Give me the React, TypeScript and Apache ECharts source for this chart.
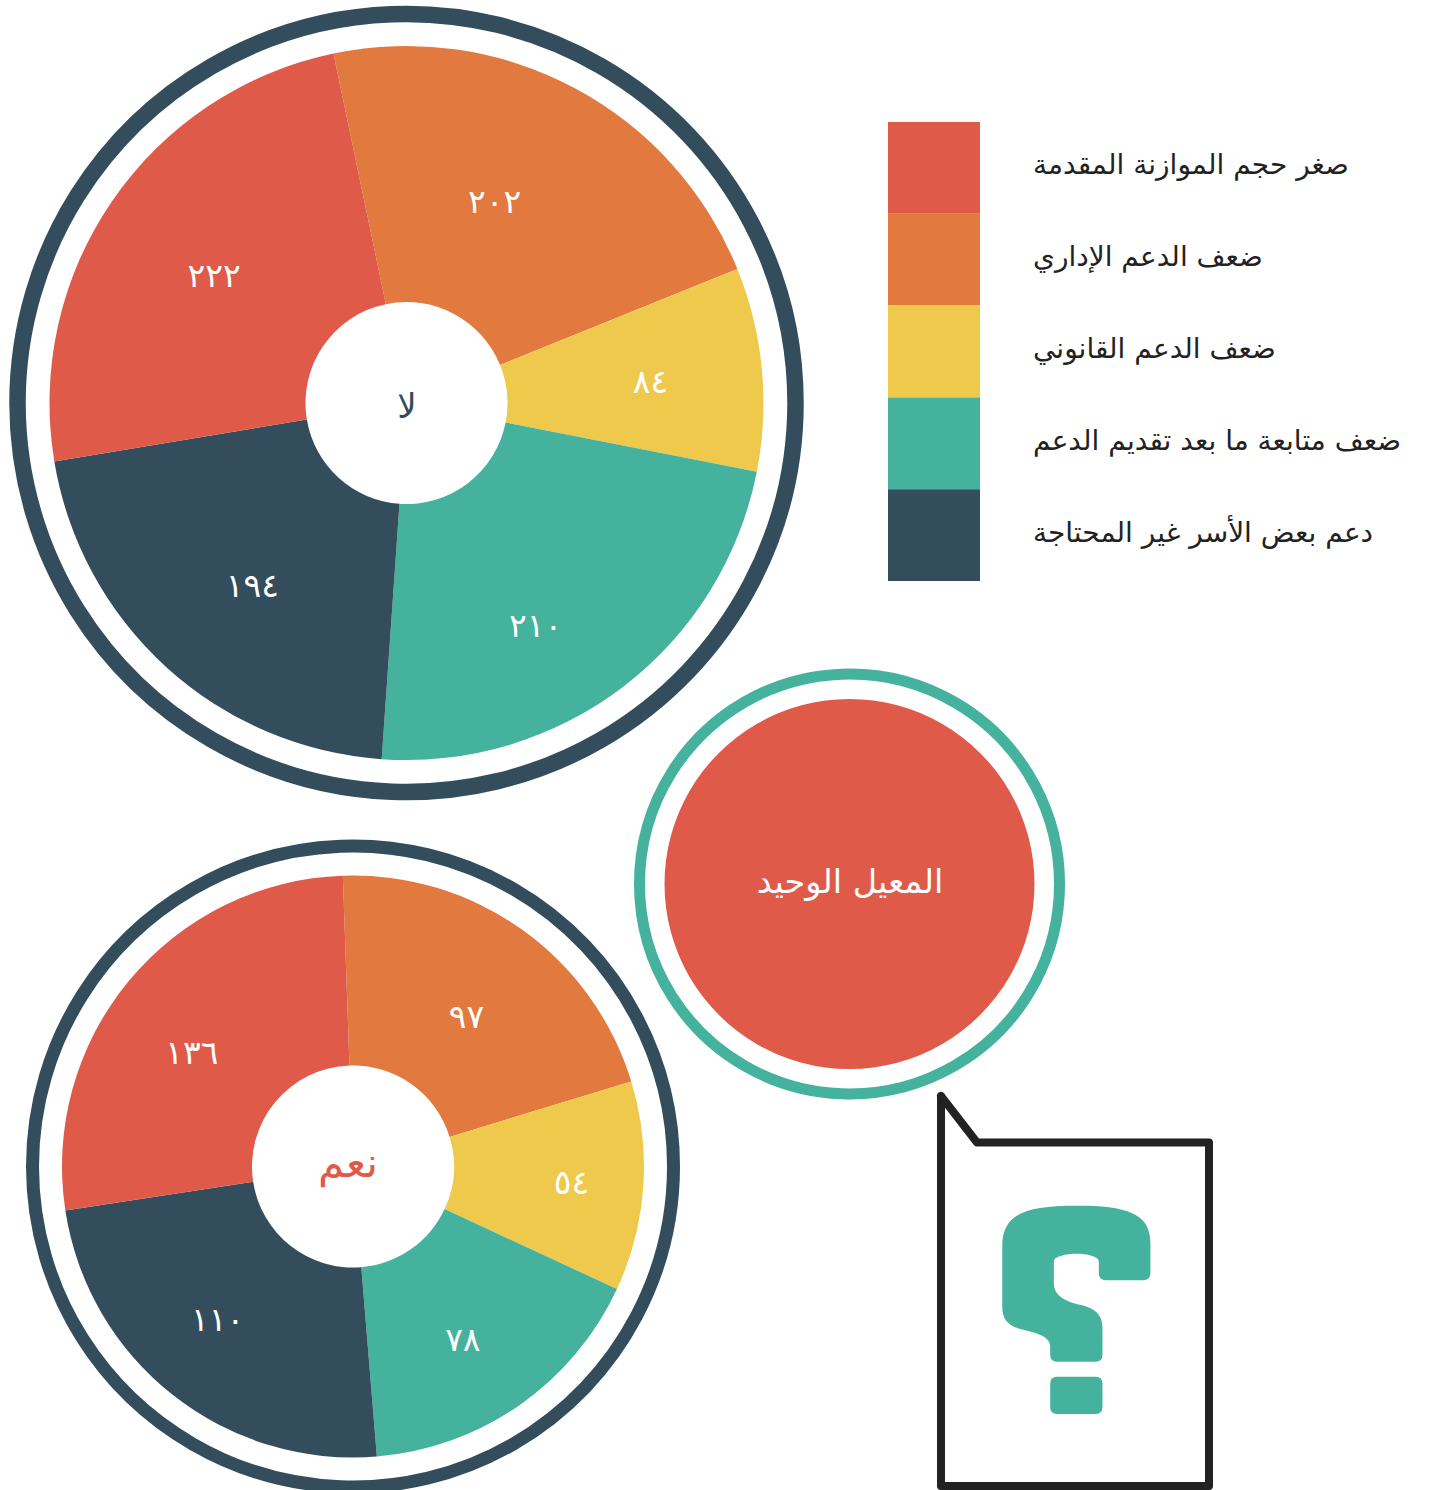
import React, { useEffect, useRef } from "react";
import * as echarts from "echarts";

const categories = [
  "ضعف الدعم الإداري",
  "ضعف الدعم القانوني",
  "ضعف متابعة ما بعد تقديم الدعم",
  "دعم بعض الأسر غير المحتاجة",
  "صغر حجم الموازنة المقدمة",
];
const legendOrder = [
  "صغر حجم الموازنة المقدمة",
  "ضعف الدعم الإداري",
  "ضعف الدعم القانوني",
  "ضعف متابعة ما بعد تقديم الدعم",
  "دعم بعض الأسر غير المحتاجة",
];
const noValues = [202, 84, 210, 194, 222];
// The printed numbers of the lower pie; in the picture its slices are not in
// proportion to them, so the slice sizes (degrees) are read off separately.
const yesValues = [97, 54, 78, 110, 136];
const yesSliceDegrees = [75, 41.9, 60.4, 86, 96.7];
const palette = ["#E27A3F", "#EFC94C", "#45B29D", "#334D5C", "#DF5A49"];
const FONT = "'DejaVu Sans', 'Noto Sans', sans-serif";

const noNudges = [[-21, 3], [13, 1], [-12, 38], [2, 11], [-1, 4]];
const yesNudges = [[-2, 12], [20, 2], [-4, 10], [-12, -3], [-8, 13]];

const toArabic = (n: number) =>
  String(n).replace(/[0-9]/g, (d) => "٠١٢٣٤٥٦٧٨٩"[Number(d)]);

const QMARK =
  "M247 500C247 400 320 378 470 378C620 378 692 400 692 490L692 580Q692 601 670 601L558 601Q537 601 537 580L537 545C537 530 500 522 470 522C440 522 402 530 402 545L402 610C402 650 440 665 480 675C520 684 548 700 548 745L548 825Q548 846 527 846L412 846Q391 846 391 825L391 800C391 770 350 760 310 750C270 740 247 725 247 680Z" +
  "M411 891L528 891Q548 891 548 911L548 983Q548 1003 528 1003L411 1003Q391 1003 391 983L391 911Q391 891 411 891Z";

echarts.graphic.registerShape("qmark", echarts.graphic.extendPath(QMARK, {}) as any);

function pie(
  sizes: number[],
  printed: number[],
  nudges: number[][],
  center: number[],
  outer: number,
  start: number,
) {
  return {
    type: "pie",
    center,
    radius: [101, outer],
    startAngle: start,
    clockwise: true,
    silent: true,
    avoidLabelOverlap: false,
    labelLine: { show: false },
    emphasis: { disabled: true },
    label: {
      show: true,
      position: "inside",
      color: "#fff",
      fontFamily: FONT,
      fontSize: 33,
      formatter: (p: any) => toArabic(printed[p.dataIndex]),
    },
    data: sizes.map((value, i) => ({
      name: categories[i],
      value,
      itemStyle: { color: palette[i] },
      label: { offset: nudges[i] },
    })),
  };
}

export default function App() {
  const ref = useRef<HTMLDivElement>(null);
  useEffect(() => {
    const chart = echarts.init(ref.current!, undefined, { renderer: "svg" });
    chart.setOption({
      animation: false,
      backgroundColor: "#fff",
      legend: {
        left: 888,
        top: 122,
        orient: "vertical",
        data: legendOrder,
        icon: "rect",
        itemWidth: 92,
        itemHeight: 91.8,
        itemGap: 0,
        padding: 0,
        selectedMode: false,
        formatter: (name: string) => `{t|${name}}`,
        textStyle: {
          rich: { t: { fontFamily: FONT, fontSize: 28, color: "#222", padding: [0, 0, 6, 48] } },
        },
      },
      series: [
        pie(noValues, noValues, noNudges, [406.5, 403], 357, 101.8),
        pie(yesSliceDegrees, yesValues, yesNudges, [353, 1166.5], 291, 92),
      ],
      graphic: [
        { type: "circle", shape: { cx: 406.5, cy: 403, r: 389 }, style: { fill: "none", stroke: "#334D5C", lineWidth: 16.5 } },
        { type: "circle", shape: { cx: 353, cy: 1166.5, r: 320.5 }, style: { fill: "none", stroke: "#334D5C", lineWidth: 13 } },
        { type: "circle", shape: { cx: 849.5, cy: 884, r: 210 }, style: { fill: "none", stroke: "#45B29D", lineWidth: 11 } },
        { type: "circle", shape: { cx: 849.5, cy: 884, r: 185 }, style: { fill: "#DF5A49" } },
        { type: "text", x: 850, y: 881, style: { text: "المعيل الوحيد", fill: "#fff", font: `33.5px ${FONT}`, textAlign: "center", textVerticalAlign: "middle" } },
        { type: "text", x: 407, y: 406, style: { text: "لا", fill: "#334D5C", font: `34px ${FONT}`, textAlign: "center", textVerticalAlign: "middle" } },
        { type: "text", x: 348, y: 1162, style: { text: "نعم", fill: "#DF5A49", font: `42px ${FONT}`, textAlign: "center", textVerticalAlign: "middle" } },
        {
          type: "polyline",
          shape: { points: [[941, 1096], [977, 1142.5], [1209, 1142.5], [1209, 1486], [941, 1486], [941, 1096]] },
          style: { fill: "none", stroke: "#222", lineWidth: 8, lineJoin: "round", lineCap: "round" },
        },
        { type: "qmark", x: 920, y: 1080, scaleX: 1 / 3, scaleY: 1 / 3, style: { fill: "#45B29D" } },
      ],
    });
    return () => chart.dispose();
  }, []);
  return <div ref={ref} style={{ position: "absolute", left: 0, top: 0, width: 1430, height: 1490 }} />;
}
